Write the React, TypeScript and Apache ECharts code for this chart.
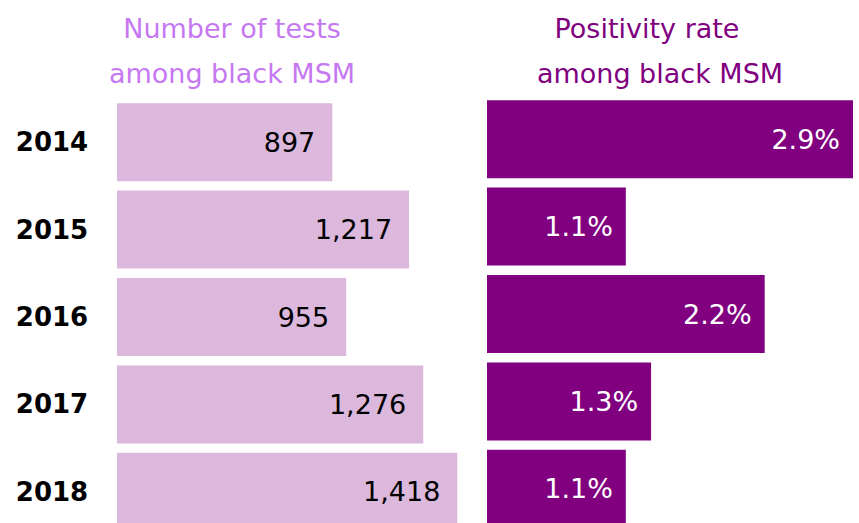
import React, { useEffect, useRef } from "react";
import * as echarts from "echarts";

const years = ["2014", "2015", "2016", "2017", "2018"];
const tests = [897, 1217, 955, 1276, 1418];
const positivity = [2.9, 1.1, 2.2, 1.3, 1.1];
const titleLeftLines = ["Number of tests", "among black MSM"];
const titleRightLines = ["Positivity rate", "among black MSM"];

const FONT = "DejaVu Sans";

export default function App() {
  const ref = useRef<HTMLDivElement>(null);
  useEffect(() => {
    if (!ref.current) return;
    const chart = echarts.init(ref.current, null, { renderer: "svg" });
    const titleStyle = (color: string) => ({
      color,
      fontFamily: FONT,
      fontSize: 27,
      fontWeight: "normal" as const,
      lineHeight: 45,
    });
    chart.setOption({
      animation: false,
      backgroundColor: "#ffffff",
      title: [
        { text: titleLeftLines[0], left: 232, top: 6, textAlign: "center", padding: 0, textStyle: titleStyle("#c678f2") },
        { text: titleLeftLines[1], left: 232, top: 51, textAlign: "center", padding: 0, textStyle: titleStyle("#c678f2") },
        { text: titleRightLines[0], left: 647, top: 6, textAlign: "center", padding: 0, textStyle: titleStyle("#800080") },
        { text: titleRightLines[1], left: 660, top: 51, textAlign: "center", padding: 0, textStyle: titleStyle("#800080") },
      ],
      grid: [
        { left: 117, top: 98.5, width: 360, height: 437 },
        { left: 487, top: 95.5, width: 366, height: 437 },
      ],
      xAxis: [
        { type: "value", gridIndex: 0, min: 0, max: 1500, show: false },
        { type: "value", gridIndex: 1, min: 0, max: 2.9, show: false },
      ],
      yAxis: [
        {
          type: "category",
          gridIndex: 0,
          data: years,
          inverse: true,
          axisLine: { show: false },
          axisTick: { show: false },
          axisLabel: {
            align: "center",
            margin: 65,
            color: "#000",
            fontFamily: FONT,
            fontSize: 26,
            fontWeight: "bold",
          },
        },
        {
          type: "category",
          gridIndex: 1,
          data: years,
          inverse: true,
          axisLine: { show: false },
          axisTick: { show: false },
          axisLabel: { show: false },
        },
      ],
      series: [
        {
          type: "bar",
          xAxisIndex: 0,
          yAxisIndex: 0,
          data: tests,
          barWidth: 78,
          itemStyle: { color: "#dbb8dc" },
          label: {
            show: true,
            position: "insideRight",
            distance: 17,
            color: "#000",
            fontFamily: FONT,
            fontSize: 27,
            formatter: (p: any) => Number(p.value).toLocaleString("en-US"),
          },
        },
        {
          type: "bar",
          xAxisIndex: 1,
          yAxisIndex: 1,
          data: positivity,
          barWidth: 78,
          itemStyle: { color: "#800080" },
          label: {
            show: true,
            position: "insideRight",
            distance: 13,
            color: "#fff",
            fontFamily: FONT,
            fontSize: 27,
            formatter: (p: any) => Number(p.value).toFixed(1) + "%",
          },
        },
      ],
    });
    return () => chart.dispose();
  }, []);
  return (
    <div
      style={{ position: "fixed", left: 0, top: 0, width: 859, height: 523, overflow: "hidden", background: "#fff" }}
    >
      <div ref={ref} style={{ width: 859, height: 560 }} />
    </div>
  );
}
